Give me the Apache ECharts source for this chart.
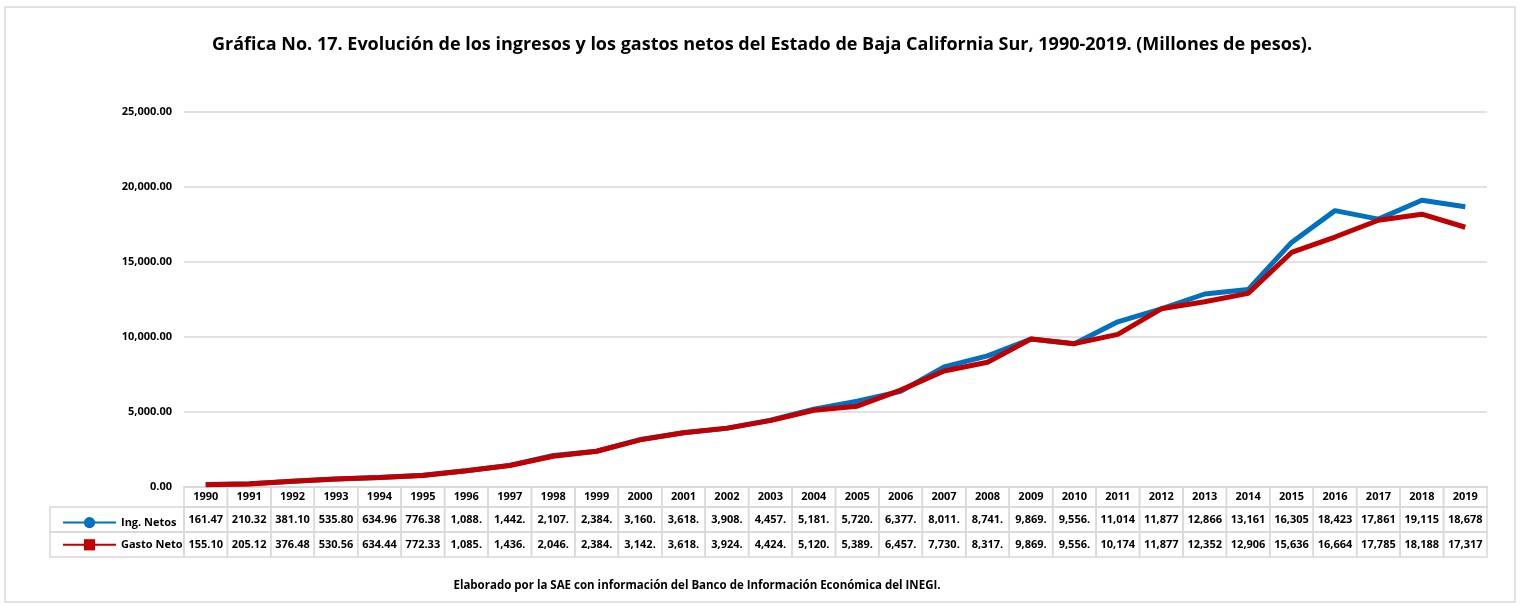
<!DOCTYPE html>
<html><head><meta charset="utf-8">
<script src="https://cdn.jsdelivr.net/npm/echarts@6/dist/echarts.min.js"></script>
<style>html,body{margin:0;padding:0;background:#fff}#c{width:1520px;height:608px}</style>
</head><body><div id="c"></div>
<script>
const years = ['1990','1991','1992','1993','1994','1995','1996','1997','1998','1999','2000','2001','2002','2003','2004','2005','2006','2007','2008','2009','2010','2011','2012','2013','2014','2015','2016','2017','2018','2019'];
const ingNetos = [161.47,210.32,381.10,535.80,634.96,776.38,1088.4,1442.3,2107.5,2384.2,3160.6,3618.4,3908.7,4457.1,5181.3,5720.2,6377.8,8011.5,8741.6,9869.3,9556.1,11014.6,11877.5,12866.2,13161.8,16305.4,18423.9,17861.2,19115.7,18678.3];
const gastoNeto = [155.10,205.12,376.48,530.56,634.44,772.33,1085.7,1436.2,2046.9,2384.2,3142.5,3618.4,3924.8,4424.6,5120.2,5389.9,6457.3,7730.4,8317.1,9869.3,9556.1,10174.5,11877.5,12352.8,12906.3,15636.7,16664.2,17785.4,18188.6,17317.9];
const yTicks = [0,5000,10000,15000,20000,25000];
const seriesNames = ['Ing. Netos','Gasto Neto'];

const FONT = '"Open Sans", Lato, sans-serif';
const GRID_L = 184, GRID_R = 33, GRID_T = 112, GRID_B = 121;
const W = 1520;
const cellW = (W - GRID_L - GRID_R) / years.length;
const BC = '#d9d9d9';
function fmt(v){
  return v.toLocaleString('en-US',{minimumFractionDigits:2,maximumFractionDigits:2}).slice(0,6);
}
const chart = echarts.init(document.getElementById('c'));
const cellStyle = (h)=>({width:cellW,height:h,lineHeight:h,align:'center',borderColor:BC,borderWidth:1.5,
  fontFamily:FONT,fontWeight:'bold',fontSize:11,color:'#000'});
chart.setOption({
  animation:false,
  title:{text:'Gráfica No. 17. Evolución de los ingresos y los gastos netos del Estado de Baja California Sur, 1990-2019. (Millones de pesos).',
    left:757,textAlign:'center',top:31,textStyle:{fontFamily:FONT,fontWeight:'bold',fontSize:18,color:'#000'}},
  legend:{orient:'vertical',left:57,top:512,itemWidth:53,itemHeight:14,itemGap:11,
    textStyle:{fontFamily:FONT,fontWeight:'bold',fontSize:11,color:'#000'},data:seriesNames},
  grid:{left:GRID_L,right:GRID_R,top:GRID_T,bottom:GRID_B,containLabel:false},
  xAxis:{type:'category',data:years,boundaryGap:true,
    axisLine:{show:true,lineStyle:{color:BC,width:1.5}},axisTick:{show:false},
    axisLabel:{interval:0,margin:0,verticalAlign:'top',
      formatter:(v,i)=>'{y|'+v+'}\n{a|'+fmt(ingNetos[i])+'}\n{b|'+fmt(gastoNeto[i])+'}',
      rich:{y:cellStyle(20),a:cellStyle(25),b:cellStyle(25)}}},
  yAxis:{type:'value',min:0,max:25000,interval:5000,
    axisLine:{show:false},axisTick:{show:false},
    splitLine:{lineStyle:{color:BC,width:1.5}},
    axisLabel:{margin:12,fontFamily:FONT,fontWeight:'bold',fontSize:11,color:'#000',
      formatter:v=>v.toLocaleString('en-US',{minimumFractionDigits:2,maximumFractionDigits:2})}},
  series:[
    {name:seriesNames[0],type:'line',data:ingNetos,symbol:'circle',symbolSize:10,showSymbol:false,
      lineStyle:{color:'#0070C0',width:5},itemStyle:{color:'#0070C0'},z:2},
    {name:seriesNames[1],type:'line',data:gastoNeto,symbol:'rect',symbolSize:10,showSymbol:false,
      lineStyle:{color:'#C00000',width:5},itemStyle:{color:'#C00000'},z:3}
  ],
  graphic:[
    {type:'rect',shape:{x:5,y:7,width:1510,height:595},style:{fill:'none',stroke:BC,lineWidth:1.5},silent:true},
    {type:'rect',shape:{x:50,y:507,width:134,height:25},style:{fill:'none',stroke:BC,lineWidth:1.5},silent:true},
    {type:'rect',shape:{x:50,y:532,width:134,height:25},style:{fill:'none',stroke:BC,lineWidth:1.5},silent:true},
    {type:'text',style:{text:'Elaborado por la SAE con información del Banco de Información Económica del INEGI.',
      x:697,y:586,textAlign:'center',textVerticalAlign:'middle',font:'bold 11.5px '+FONT,fill:'#000'}}
  ]
});
</script></body></html>
